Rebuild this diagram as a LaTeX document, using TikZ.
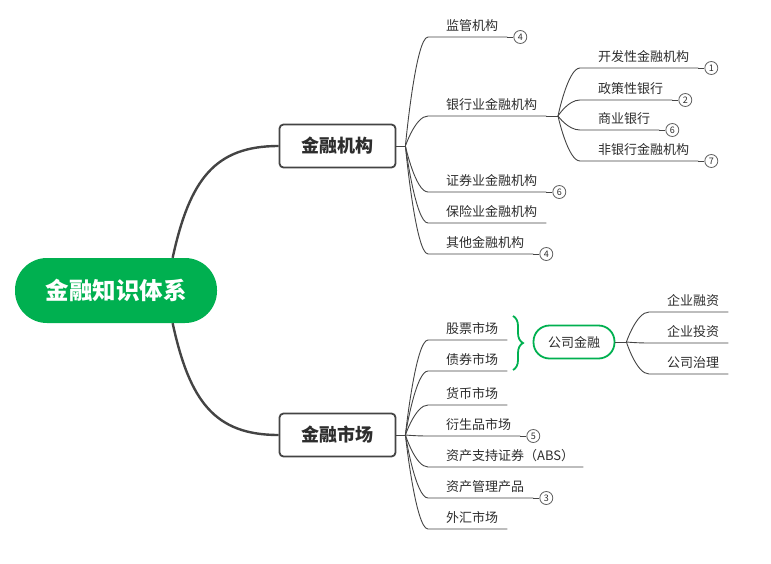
\documentclass[tikz,border=0pt]{standalone}
\usepackage{fontspec}
\setmainfont{Noto Sans CJK SC}
\usetikzlibrary{positioning,calc,decorations.pathreplacing}
\definecolor{xmgreen}{RGB}{0,176,80}
\definecolor{xmline}{RGB}{68,68,68}
\definecolor{xmtext}{RGB}{45,45,45}
\begin{document}
\begin{tikzpicture}[x=1pt, y=-1pt,
    rootnode/.style={fill=xmgreen, text=white, font=\fontsize{23.5}{26}\selectfont\bfseries,
        rounded corners=32pt, minimum width=202pt, minimum height=65pt},
    mainbox/.style={draw=xmline, line width=1.8pt, rounded corners=4pt, fill=white, text=xmtext,
        font=\fontsize{18}{21}\selectfont\bfseries, minimum width=116pt, minimum height=43pt},
    gongsibox/.style={draw=xmgreen, line width=1.8pt, rounded corners=16pt, fill=white, text=xmtext,
        font=\fontsize{13}{15}\selectfont, minimum width=81pt, minimum height=33pt},
    leaf/.style={anchor=south west, inner xsep=9pt, inner ysep=5.5pt, text=xmtext,
        font=\fontsize{13}{15}\selectfont, execute at begin node={\hspace*{9pt}}},
    badge/.style={circle, draw=xmline!85, line width=0.8pt, fill=white, inner sep=0pt,
        minimum size=13pt, text=xmtext, font=\fontsize{9}{10}\selectfont},
    trunk/.style={draw=xmline, line width=2.4pt},
    twig/.style={draw=xmline, line width=0.9pt},
    bracegreen/.style={draw=xmgreen, line width=1.8pt, decorate, decoration={brace, amplitude=10pt}}]
    \useasboundingbox (0,0) rectangle (771,563);

    % centre and main branches
    \node[rootnode] (tixi) at (116,290.5) {金融知识体系};
    \node[mainbox] (jigou) at (337.5,146) {金融机构};
    \node[mainbox] (shichang) at (337.5,435) {金融市场};
    \draw[trunk] (tixi.30) .. controls +(17,-78) and +(-64,0) .. (jigou.west);
    \draw[trunk] (tixi.-30) .. controls +(17,78) and +(-64,0) .. (shichang.west);

    \coordinate (f1) at ($(jigou.east)+(9,0)$);
    \coordinate (f2) at ($(shichang.east)+(9,0)$);
    \draw[twig] (jigou.east) -- (f1);
    \draw[twig] (shichang.east) -- (f2);

    % 金融机构
    \node[leaf] (a1) at (428,37) {监管机构};
    \node[leaf] (a2) at (428,116) {银行业金融机构};
    \node[leaf] (a3) at (428,192) {证券业金融机构};
    \node[leaf] (a4) at (428,223) {保险业金融机构};
    \node[leaf] (a5) at (428,254) {其他金融机构};
    \foreach \n in {a1,a2,a3,a4,a5}
        \draw[twig] (f1) .. controls (f1) and ($(f1|-\n.south west)!0.45!(\n.south west)$) .. (\n.south west) -- (\n.south east);

    \coordinate (f3) at (558,116);
    \draw[twig] (a2.south east) -- (f3);
    \node[leaf] (b1) at (580,68) {开发性金融机构};
    \node[leaf] (b2) at (580,100) {政策性银行};
    \node[leaf] (b3) at (580,130) {商业银行};
    \node[leaf] (b4) at (580,161) {非银行金融机构};
    \foreach \n in {b1,b2,b3,b4}
        \draw[twig] (f3) .. controls (f3) and ($(f3|-\n.south west)!0.45!(\n.south west)$) .. (\n.south west) -- (\n.south east);

    % 金融市场
    \node[leaf] (c1) at (428,340) {股票市场};
    \node[leaf] (c2) at (428,371) {债券市场};
    \node[leaf] (c3) at (428,405) {货币市场};
    \node[leaf] (c4) at (428,436) {衍生品市场};
    \node[leaf] (c5) at (428,467) {资产支持证券（ABS）};
    \node[leaf] (c6) at (428,498) {资产管理产品};
    \node[leaf] (c7) at (428,529) {外汇市场};
    \foreach \n in {c1,c2,c3,c4,c5,c6,c7}
        \draw[twig] (f2) .. controls (f2) and ($(f2|-\n.south west)!0.45!(\n.south west)$) .. (\n.south west) -- (\n.south east);

    \draw[bracegreen] (513,316) -- (513,370);
    \node[gongsibox] (gongsi) at (574,342) {公司金融};
    \coordinate (f4) at ($(gongsi.east)+(11,0)$);
    \draw[twig] (gongsi.east) -- (f4);
    \node[leaf] (d1) at (649,312) {企业融资};
    \node[leaf] (d2) at (649,343) {企业投资};
    \node[leaf] (d3) at (649,374) {公司治理};
    \foreach \n in {d1,d2,d3}
        \draw[twig] (f4) .. controls (f4) and ($(f4|-\n.south west)!0.45!(\n.south west)$) .. (\n.south west) -- (\n.south east);

    % markers
    \foreach \n/\k in {a1/4,a3/6,a5/4,b1/1,b2/2,b3/6,b4/7,c4/5,c6/3} {
        \node[badge, right=6pt of \n.south east] (\n-k) {\k};
        \draw[twig] (\n.south east) -- (\n-k);
    }
\end{tikzpicture}
\end{document}
